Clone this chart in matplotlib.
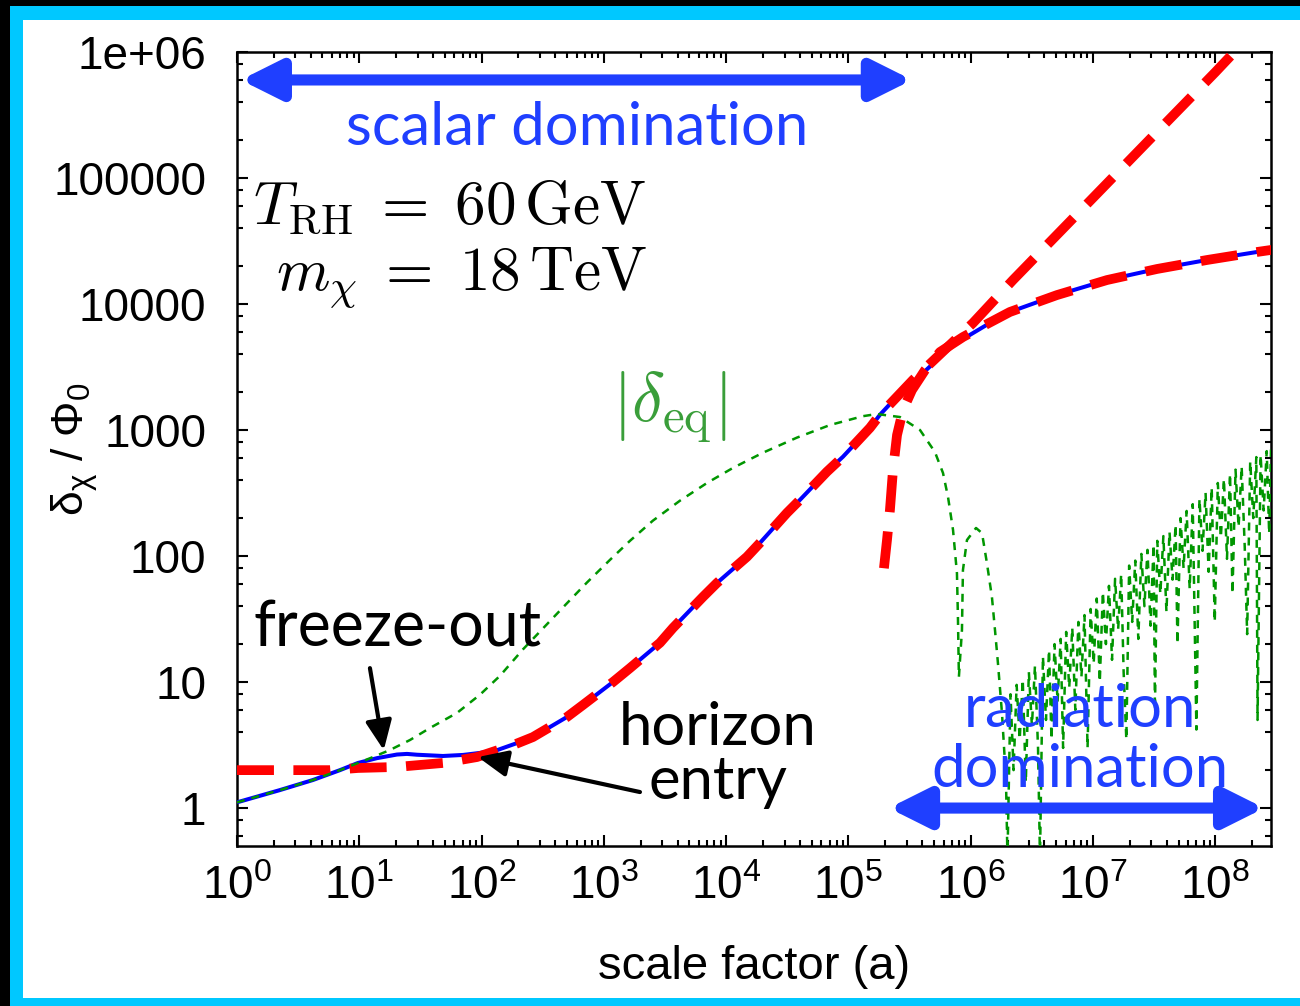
import numpy as np
import matplotlib
matplotlib.use('Agg')
import matplotlib.pyplot as plt
from matplotlib.patches import Rectangle
from matplotlib.font_manager import FontProperties
from matplotlib.ticker import FixedLocator, FixedFormatter, LogLocator, NullFormatter

plt.rcParams['font.family'] = ['Liberation Sans', 'DejaVu Sans']
plt.rcParams['mathtext.fontset'] = 'custom'
plt.rcParams['mathtext.rm'] = 'Liberation Sans'
plt.rcParams['mathtext.it'] = 'Liberation Sans:italic'

# full numerical solution (log10 a, delta_chi / Phi_0)
loga_full = [0.0, 0.352, 0.621, 0.842, 0.989, 1.145, 1.308, 1.39, 1.472, 1.684, 1.848,
             1.987, 2.126, 2.29, 2.42, 2.698, 2.829, 3.074, 3.213, 3.459, 3.565,
             3.81, 3.925, 4.17, 4.276, 4.497, 4.603, 4.824, 4.955, 5.176, 5.258,
             5.42, 5.609, 5.855, 6.1, 6.157, 6.32, 6.705, 7.114, 7.523, 7.931,
             8.34, 8.46]
delta_full = [1.11, 1.39, 1.67, 2.0, 2.28, 2.49, 2.66, 2.69, 2.65, 2.59, 2.64,
              2.74, 2.88, 3.28, 3.66, 5.28, 6.58, 10.0, 12.9, 20.5, 26.9,
              47.4, 61.2, 98.6, 127, 220, 279, 467, 614, 1042, 1324,
              1950, 2833, 4730, 6560, 7070, 8650, 11780, 15500, 18970, 22350,
              25880, 26900]

# scalar-domination approximation
loga_sd = [0.0, 0.76, 0.989, 1.308, 1.684, 1.962, 2.257, 2.42, 2.698, 2.829,
           3.074, 3.213, 3.459, 3.565, 3.81, 3.925, 4.17, 4.276, 4.497, 4.603,
           4.824, 4.955, 5.176, 5.258, 5.527, 6.018, 6.345, 7.0, 7.5, 8.0, 8.25]
delta_sd = [2.0, 2.0, 2.08, 2.12, 2.28, 2.54, 3.16, 3.66, 5.28, 6.58,
            10.0, 12.9, 20.5, 26.9, 47.4, 61.2, 98.6, 127, 220, 279,
            467, 614, 1042, 1324, 2495, 7070, 15500, 69700, 220000, 692000, 1.25e6]

# radiation-domination approximation
loga_rd = [5.29, 5.315, 5.339, 5.364, 5.397, 5.446, 5.519, 5.626, 5.748, 5.936,
           6.116, 6.32, 6.705, 7.114, 7.523, 7.931, 8.34, 8.46]
delta_rd = [80, 134, 232, 482, 912, 1442, 2075, 2990, 4160, 5470,
            6800, 8650, 11780, 15500, 18970, 22350, 25880, 26900]

# |delta_eq|: smooth rise, turnover, then the oscillating tail
loga_eq = [0.0, 0.352, 0.621, 0.842, 0.989, 1.112, 1.251, 1.415, 1.578, 1.799,
           1.987, 2.15, 2.339, 2.535, 2.698, 2.862, 3.05, 3.213, 3.401, 3.622,
           3.843, 4.056, 4.301, 4.579, 4.849, 5.118, 5.233, 5.421, 5.585, 5.707,
           5.773, 5.814, 5.855, 5.887, 5.895, 5.903, 5.928, 5.936, 5.969, 6.043,
           6.092, 6.132, 6.173, 6.198, 6.222, 6.255, 6.288,
           6.300, 6.325, 6.350, 6.375, 6.400, 6.425, 6.450, 6.475, 6.500, 6.525,
           6.550, 6.566, 6.590, 6.615, 6.640, 6.660, 6.685, 6.710, 6.735, 6.755,
           6.780, 6.805, 6.830, 6.855, 6.880, 6.905, 6.930, 6.955, 6.980, 7.005,
           7.030, 7.055, 7.080, 7.105, 7.130, 7.155, 7.180, 7.205, 7.230, 7.250,
           7.272, 7.295, 7.320, 7.345, 7.370, 7.395, 7.420, 7.445, 7.470, 7.495,
           7.506, 7.525, 7.550, 7.575, 7.600, 7.625, 7.650, 7.675, 7.690, 7.715,
           7.740, 7.765, 7.790, 7.815, 7.845, 7.870, 7.895, 7.920, 7.945, 7.970,
           7.995, 8.020, 8.045, 8.070, 8.095, 8.120, 8.140, 8.165, 8.190, 8.215,
           8.240, 8.260, 8.285, 8.310, 8.335, 8.345, 8.370, 8.395, 8.420, 8.440,
           8.455]
delta_eq = [1.11, 1.39, 1.67, 2.0, 2.28, 2.54, 2.89, 3.47, 4.32, 5.69,
            7.94, 11.2, 18.2, 28.8, 42.2, 61.7, 93.3, 132, 191, 275,
            380, 501, 661, 871, 1096, 1288, 1340, 1268, 1000, 669,
            456, 294, 161, 73, 32.8, 11.0, 25.9, 77.4, 134, 167,
            152, 88, 47.3, 25.9, 14.2, 5.7, 1.67,
            0.4, 8.0, 2.0, 9.5, 3.5, 10.5, 1.6, 12.0, 4.5, 13.5,
            3.0, 0.4, 16.0, 5.0, 18.0, 3.5, 20.0, 7.0, 22.0, 3.0,
            25.0, 9.0, 27.0, 6.0, 30.0, 11.0, 34.0, 3.0, 38.0, 14.0,
            46.0, 10.0, 52.0, 20.0, 58.0, 15.0, 66.0, 26.0, 72.0, 12.0,
            3.5, 84.0, 30.0, 92.0, 22.0, 104.0, 40.0, 112.0, 28.0, 124.0,
            6.0, 132.0, 50.0, 144.0, 36.0, 156.0, 65.0, 178.0, 20.0, 200.0,
            80.0, 228.0, 55.0, 258.0, 4.2, 285.0, 110.0, 318.0, 75.0, 350.0,
            30.0, 380.0, 140.0, 410.0, 95.0, 450.0, 50.0, 485.0, 170.0, 515.0,
            120.0, 24.0, 565.0, 200.0, 610.0, 5.0, 635.0, 230.0, 680.0, 150.0,
            700.0]

ytick_vals = [1, 10, 100, 1000, 10000, 100000, 1000000]
ytick_labels = ['1', '10', '100', '1000', '10000', '100000', '1e+06']

blue = '#1f3fff'

fig = plt.figure(figsize=(13, 10.06), dpi=100)
fig.patch.set_facecolor('black')
fig.patches.append(Rectangle((10 / 1300, 0), 1.1, 1000 / 1006, transform=fig.transFigure,
                             facecolor='#00c8ff', edgecolor='none', zorder=-10))
fig.patches.append(Rectangle((23 / 1300, 8 / 1006), 1.1, 978 / 1006, transform=fig.transFigure,
                             facecolor='white', edgecolor='none', zorder=-9))

ax = fig.add_axes([237 / 1300, 160 / 1006, 1034 / 1300, 794 / 1006])
ax.set_xscale('log')
ax.set_yscale('log')
ax.set_xlim(1, 10 ** 8.455)
ax.set_ylim(0.5, 1e6)

x = lambda la: 10 ** np.array(la)

ax.plot(x(loga_full), delta_full, color='#0000ff', lw=2.9, solid_capstyle='butt', zorder=3)
ax.plot(x(loga_sd), delta_sd, color='red', lw=7, dashes=(3.8, 2.0), zorder=4)
ax.plot(x(loga_rd), delta_rd, color='red', lw=7, dashes=(3.8, 2.0), zorder=4)
ax.plot(x(loga_eq), delta_eq, color='#009600', lw=1.8, dashes=(3.2, 2.8), zorder=5)

# axes styling
for s in ax.spines.values():
    s.set_linewidth(1.8)
ax.yaxis.set_major_locator(FixedLocator(ytick_vals))
ax.yaxis.set_major_formatter(FixedFormatter(ytick_labels))
ax.yaxis.set_minor_locator(LogLocator(base=10, subs=(2, 4, 6, 8), numticks=20))
ax.yaxis.set_minor_formatter(NullFormatter())
ax.xaxis.set_major_locator(LogLocator(base=10, numticks=20))
ax.xaxis.set_minor_locator(LogLocator(base=10, subs=np.arange(2, 10), numticks=20))
ax.xaxis.set_minor_formatter(NullFormatter())
ax.tick_params(which='both', direction='in', top=True, right=True, width=1.5)
ax.tick_params(which='major', length=8, labelsize=33)
ax.tick_params(which='minor', length=4)
ax.tick_params(axis='y', pad=22)
ax.tick_params(axis='x', pad=14)

ax.set_xlabel('scale factor (a)', fontsize=34)
ax.xaxis.set_label_coords(0.5, -0.152)
ax.xaxis.label.set_va('center')
ax.set_ylabel(r'δ$_{\mathregular{χ}}$ / Φ$_{\mathregular{0}}$', fontsize=32)
ax.yaxis.set_label_coords(-0.157, 0.5)
ax.yaxis.label.set_va('center')

# annotations
gill = ['Lato', 'DejaVu Sans']
ax.annotate('', xy=(10 ** 5.52, 6e5), xytext=(10 ** 0.03, 6e5),
            arrowprops=dict(arrowstyle='<|-|>,head_length=1.2,head_width=0.6', color=blue,
                            lw=8, mutation_scale=20, shrinkA=0, shrinkB=0), zorder=6)
ax.text(10 ** 2.78, 10 ** 5.397, 'scalar domination', color=blue, fontsize=43,
        family=gill, ha='center', va='center')

ax.annotate('', xy=(10 ** 8.40, 1.0), xytext=(10 ** 5.33, 1.0),
            arrowprops=dict(arrowstyle='<|-|>,head_length=1.2,head_width=0.6', color=blue,
                            lw=8, mutation_scale=20, shrinkA=0, shrinkB=0), zorder=6)
ax.text(10 ** 6.893, 6.0, 'radiation', color=blue, fontsize=43, family=gill,
        ha='center', va='center', zorder=7)
ax.text(10 ** 6.893, 2.0, 'domination', color=blue, fontsize=43, family=gill,
        ha='center', va='center', zorder=7)

ax.text(10 ** 1.309, 26.8, 'freeze-out', color='black', fontsize=45, family=gill,
        ha='center', va='center', zorder=7)
ax.annotate('', xy=(10 ** 1.2, 2.88), xytext=(10 ** 1.087, 12.9),
            arrowprops=dict(arrowstyle='-|>,head_length=0.9,head_width=0.4', color='black',
                            lw=3, mutation_scale=20, shrinkA=0, shrinkB=0), zorder=7)

ax.text(10 ** 3.933, 4.31, 'horizon', color='black', fontsize=43, family=gill,
        ha='center', va='center', zorder=7)
ax.text(10 ** 3.933, 1.61, 'entry', color='black', fontsize=43, family=gill,
        ha='center', va='center', zorder=7)
ax.annotate('', xy=(10 ** 1.97, 2.54), xytext=(10 ** 3.295, 1.34),
            arrowprops=dict(arrowstyle='-|>,head_length=0.9,head_width=0.4', color='black',
                            lw=3, mutation_scale=20, shrinkA=0, shrinkB=0), zorder=7)

cm = FontProperties(size=44, math_fontfamily='cm')
ax.text(10 ** 3.352, 10 ** 4.77, r'$T_{\rm RH}\;=\;60\,{\rm GeV}$', fontproperties=cm,
        ha='right', va='center')
ax.text(10 ** 3.352, 10 ** 4.206, r'$m_{\chi}\;=\;18\,{\rm TeV}$', fontproperties=cm,
        ha='right', va='center')
ax.text(10 ** 3.54, 10 ** 3.175, r'$\left|\delta_{\rm eq}\right|$',
        fontproperties=FontProperties(size=50, math_fontfamily='cm'), color='#3a9e3a',
        ha='center', va='center')

fig.savefig('out.png', dpi=100, facecolor=fig.get_facecolor())
